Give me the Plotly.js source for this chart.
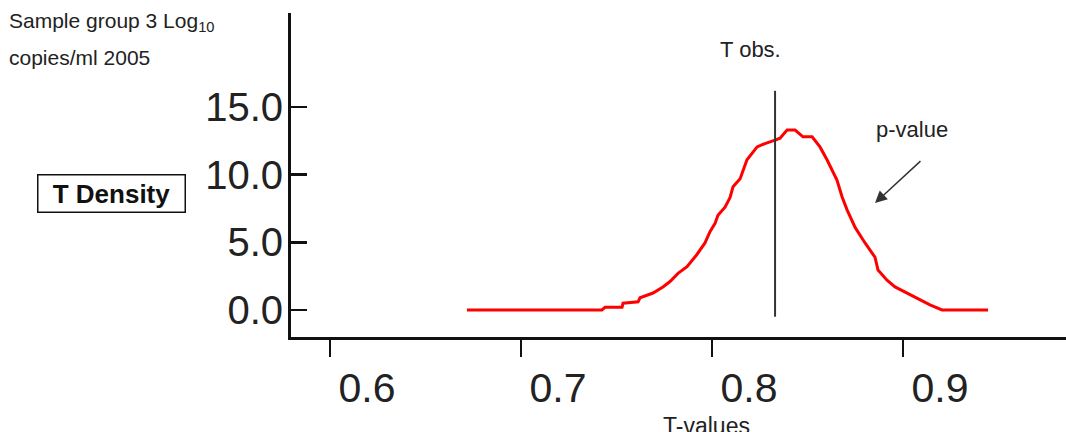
<!DOCTYPE html>
<html>
<head>
<meta charset="utf-8">
<script src="https://cdn.plot.ly/plotly-3.0.1.min.js"></script>
<style>html,body{margin:0;padding:0;background:#fff;}#chart{width:1066px;height:432px;}</style>
</head>
<body>
<div id="chart"></div>
<script>
// T-values (x) and T density (y)
var tValues = [0.6717, 0.7424, 0.7440, 0.7529, 0.7534, 0.7613, 0.7623, 0.7665, 0.7691, 0.7743,
  0.7780, 0.7822, 0.7869, 0.7921, 0.7963, 0.7990, 0.8016, 0.8031, 0.8068, 0.8094,
  0.8110, 0.8147, 0.8183, 0.8236, 0.8277, 0.8330, 0.8356, 0.8393, 0.8435, 0.8476,
  0.8524, 0.8565, 0.8602, 0.8654, 0.8681, 0.8707, 0.8749, 0.8801, 0.8853, 0.8869,
  0.8916, 0.8958, 0.9021, 0.9089, 0.9141, 0.9204, 0.9445];
var tDensity = [0.0, 0.0, 0.2, 0.2, 0.5, 0.6, 0.9, 1.1, 1.25, 1.7,
  2.1, 2.7, 3.2, 4.1, 4.95, 5.8, 6.4, 7.0, 7.6, 8.3,
  9.1, 9.7, 11.1, 12.05, 12.3, 12.55, 12.7, 13.3, 13.3, 12.8,
  12.8, 12.05, 11.1, 9.6, 8.35, 7.4, 6.1, 4.95, 3.9, 2.95,
  2.2, 1.7, 1.25, 0.74, 0.37, 0.0, 0.0];
var xTickVals = [0.6, 0.7, 0.8, 0.9];
var xTickText = ['0.6', '0.7', '0.8', '0.9'];
var yTickVals = [0, 5, 10, 15];
var yTickText = ['0.0', '5.0', '10.0', '15.0'];
var tObs = 0.833;
var tObsRange = [-0.5, 16.2];
var arrowHead = [0.8853, 7.9];
var arrowTail = [0.9099, 11.1];

var FONT = 'Liberation Sans, Arial, sans-serif';

var trace = {
  x: tValues, y: tDensity, type: 'scatter', mode: 'lines',
  line: {color: '#ff0000', width: 3}, hoverinfo: 'skip'
};

var layout = {
  width: 1066, height: 432,
  margin: {l: 291, r: 0, t: 13, b: 95},
  paper_bgcolor: '#ffffff', plot_bgcolor: '#ffffff',
  showlegend: false,
  font: {family: FONT, color: '#222'},
  xaxis: {
    range: [0.5796, 0.9853], tickvals: xTickVals, ticktext: xTickText,
    showgrid: false, zeroline: false, showline: true, linecolor: '#111', linewidth: 2.5,
    ticks: 'outside', ticklen: 17, tickwidth: 2.5, tickcolor: '#111',
    tickfont: {family: FONT, size: 41, color: '#222'},
    ticklabelshift: 37, ticklabelstandoff: -4,
    title: {text: ''}
  },
  yaxis: {
    range: [-2.0, 21.95], tickvals: yTickVals, ticktext: yTickText,
    showgrid: false, zeroline: false, showline: true, linecolor: '#111', linewidth: 3,
    ticks: 'inside', ticklen: 16, tickwidth: 2.5, tickcolor: '#111',
    tickfont: {family: FONT, size: 40, color: '#222'},
    ticklabelstandoff: -3,
    title: {text: ''}
  },
  shapes: [{
    type: 'line', xref: 'x', yref: 'y', x0: tObs, x1: tObs, y0: tObsRange[0], y1: tObsRange[1],
    line: {color: '#333', width: 2}
  }],
  annotations: [
    {xref: 'paper', yref: 'paper', x: (7 - 291) / 775, y: (337 - 22) / 324, xanchor: 'left', yanchor: 'middle',
     text: 'Sample group 3 Log<sub>10</sub>', showarrow: false, align: 'left',
     font: {family: FONT, size: 21, color: '#222'}},
    {xref: 'paper', yref: 'paper', x: (7 - 291) / 775, y: (337 - 57) / 324, xanchor: 'left', yanchor: 'middle',
     text: 'copies/ml 2005', showarrow: false, align: 'left',
     font: {family: FONT, size: 21, color: '#222'}},
    {xref: 'paper', yref: 'paper', x: (111 - 291) / 775, y: (337 - 193) / 324, xanchor: 'center', yanchor: 'middle',
     text: '<b>T Density</b>', showarrow: false, bordercolor: '#111', borderwidth: 1.5, borderpad: 3,
     width: 140, align: 'center',
     bgcolor: '#fff', font: {family: FONT, size: 26, color: '#111'}},
    {xref: 'paper', yref: 'paper', x: (750 - 291) / 775, y: (337 - 50) / 324, xanchor: 'center', yanchor: 'middle',
     text: 'T obs.', showarrow: false, font: {family: FONT, size: 22, color: '#222'}},
    {xref: 'paper', yref: 'paper', x: (912 - 291) / 775, y: (337 - 129) / 324, xanchor: 'center', yanchor: 'middle',
     text: 'p-value', showarrow: false, font: {family: FONT, size: 22, color: '#222'}},
    {xref: 'paper', yref: 'paper', x: (706 - 291) / 775, y: (337 - 426) / 324, xanchor: 'center', yanchor: 'middle',
     text: 'T-values', showarrow: false, font: {family: FONT, size: 23, color: '#222'}},
    {xref: 'x', yref: 'y', axref: 'x', ayref: 'y', x: arrowHead[0], y: arrowHead[1], ax: arrowTail[0], ay: arrowTail[1],
     text: '', showarrow: true, arrowhead: 2, arrowsize: 1.6, arrowwidth: 1.5, arrowcolor: '#333'}
  ]
};

Plotly.newPlot('chart', [trace], layout, {staticPlot: true, displayModeBar: false});
</script>
</body>
</html>
